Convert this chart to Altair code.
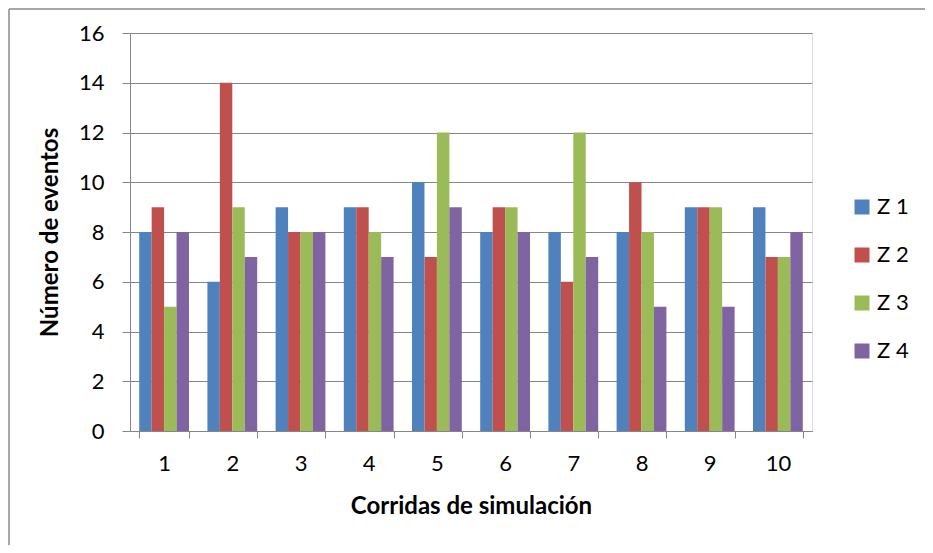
import altair as alt
import pandas as pd

runs = ["1", "2", "3", "4", "5", "6", "7", "8", "9", "10"]
series = ["Z 1", "Z 2", "Z 3", "Z 4"]
z1 = [8, 6, 9, 9, 10, 8, 8, 8, 9, 9]
z2 = [9, 14, 8, 9, 7, 9, 6, 10, 9, 7]
z3 = [5, 9, 8, 8, 12, 9, 12, 8, 9, 7]
z4 = [8, 7, 8, 7, 9, 8, 7, 5, 5, 8]
colors = ["#4F81BD", "#C0504D", "#9BBB59", "#8064A2"]

rows = []
for s, vals in zip(series, [z1, z2, z3, z4]):
    for r, v in zip(runs, vals):
        rows.append({"run": r, "serie": s, "valor": v})
df = pd.DataFrame(rows)

FONT = "Lato"
GRID = "#868686"

bars = alt.Chart(df).mark_bar().encode(
    x=alt.X("run:N", sort=runs,
            scale=alt.Scale(paddingInner=0.27, paddingOuter=0.135),
            axis=alt.Axis(title="Corridas de simulación", labelAngle=0,
                          tickBand="extent", tickSize=7, tickColor=GRID,
                          domainColor=GRID, labelPadding=15, titlePadding=20,
                          labelFontSize=22, titleFontSize=24, titleFontWeight="bold")),
    xOffset=alt.XOffset("serie:N", sort=series, scale=alt.Scale(paddingInner=0, paddingOuter=0)),
    y=alt.Y("valor:Q", scale=alt.Scale(domain=[0, 16], nice=False),
            axis=alt.Axis(title="Número de eventos", values=list(range(0, 17, 2)),
                          tickSize=8, tickColor=GRID, domainColor=GRID,
                          gridColor=GRID, grid=True, labelPadding=18, titlePadding=16,
                          labelFontSize=22, titleFontSize=24, titleFontWeight="bold")),
    color=alt.Color("serie:N", sort=series,
                    scale=alt.Scale(domain=series, range=colors),
                    legend=alt.Legend(title=None, orient="none", legendX=721, legendY=163,
                                      symbolType="square", symbolSize=225,
                                      symbolStrokeWidth=0, labelFontSize=22,
                                      rowPadding=26, labelOffset=4)),
)

edge = pd.DataFrame({"a": [0]})
left_line = alt.Chart(edge).mark_rule(color="#8a8a8a", strokeWidth=1.5).encode(
    x=alt.value(-121), y=alt.value(-24), y2=alt.value(600))
top_line = alt.Chart(edge).mark_rule(color="#8a8a8a", strokeWidth=1.5).encode(
    x=alt.value(-121), x2=alt.value(1000), y=alt.value(-24))

chart = alt.layer(left_line, top_line, bars).properties(
    width=682, height=398,
    autosize=alt.AutoSizeParams(type="none"),
    padding={"left": 122, "top": 25, "right": 113, "bottom": 114},
).configure_view(stroke=None).configure(font=FONT).configure_axis(
    labelColor="black", titleColor="black", labelFont=FONT, titleFont=FONT
).configure_legend(labelColor="black", labelFont=FONT)

chart.save("out.html", embed_options={"renderer": "svg", "actions": False})
